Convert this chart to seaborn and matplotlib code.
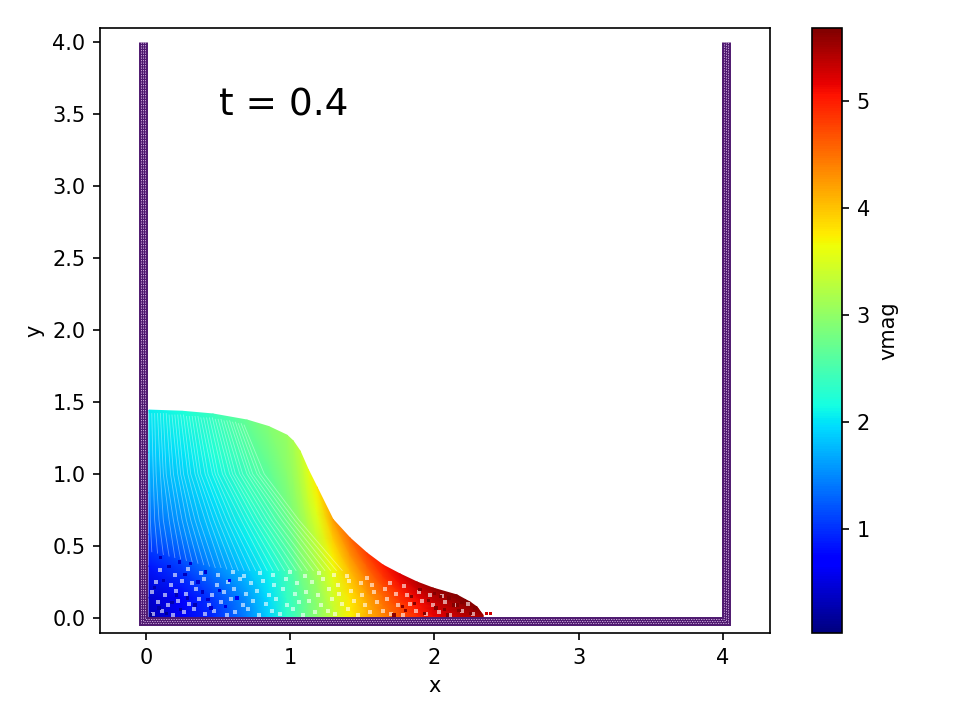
import numpy as np
import pandas as pd
import matplotlib
matplotlib.use("Agg")
import matplotlib.pyplot as plt
import seaborn as sns

time_label = "t = 0.4"
vmag_min = 0.023
vmag_max = 5.68

# fluid body, one list per column, top of the fluid first
col_x = [0.02, 0.25, 0.464, 0.70, 0.85, 0.977, 1.02, 1.068, 1.125, 1.185, 1.296, 1.414, 1.532, 1.643, 1.761, 1.879,
         1.99, 2.156, 2.246, 2.295, 2.336]
col_y = [
    [1.444, 1.15, 0.87, 0.58, 0.36, 0.14, 0],
    [1.436, 1.15, 0.86, 0.57, 0.36, 0.14, 0],
    [1.417, 1.13, 0.85, 0.57, 0.35, 0.14, 0],
    [1.375, 1.10, 0.82, 0.55, 0.34, 0.14, 0],
    [1.33, 1.06, 0.80, 0.53, 0.33, 0.13, 0],
    [1.27, 1.02, 0.76, 0.51, 0.32, 0.13, 0],
    [1.23, 0.98, 0.74, 0.49, 0.31, 0.12, 0],
    [1.16, 0.93, 0.70, 0.46, 0.29, 0.12, 0],
    [1.03, 0.82, 0.62, 0.41, 0.26, 0.10, 0],
    [0.91, 0.73, 0.55, 0.36, 0.23, 0.09, 0],
    [0.685, 0.55, 0.41, 0.27, 0.17, 0.07, 0],
    [0.556, 0.44, 0.33, 0.22, 0.14, 0.06, 0],
    [0.451, 0.36, 0.27, 0.18, 0.11, 0.05, 0],
    [0.368, 0.29, 0.22, 0.15, 0.09, 0.04, 0],
    [0.306, 0.24, 0.18, 0.12, 0.08, 0.03, 0],
    [0.25, 0.20, 0.15, 0.10, 0.06, 0.025, 0],
    [0.208, 0.17, 0.125, 0.08, 0.05, 0.02, 0],
    [0.16, 0.13, 0.095, 0.065, 0.04, 0.016, 0],
    [0.111, 0.09, 0.067, 0.044, 0.028, 0.011, 0],
    [0.076, 0.06, 0.045, 0.03, 0.02, 0.008, 0],
    [0.02, 0.016, 0.012, 0.008, 0.005, 0.002, 0],
]
col_v = [
    [2.05, 1.85, 1.55, 1.2, 0.85, 0.4, 0.3],
    [2.2, 2.0, 1.75, 1.45, 1.1, 0.7, 0.6],
    [2.4, 2.2, 2.0, 1.75, 1.45, 1.05, 0.95],
    [2.7, 2.5, 2.3, 2.05, 1.85, 1.55, 1.45],
    [2.9, 2.7, 2.5, 2.3, 2.1, 1.95, 1.9],
    [3.05, 2.95, 2.8, 2.6, 2.45, 2.35, 2.3],
    [3.15, 3.05, 2.9, 2.7, 2.55, 2.45, 2.4],
    [3.3, 3.2, 3.05, 2.9, 2.75, 2.6, 2.6],
    [3.55, 3.4, 3.2, 3.05, 2.9, 2.8, 2.8],
    [3.75, 3.55, 3.35, 3.2, 3.05, 2.95, 2.95],
    [4.2, 3.95, 3.7, 3.55, 3.45, 3.35, 3.35],
    [4.55, 4.3, 4.05, 3.9, 3.8, 3.75, 3.7],
    [4.8, 4.6, 4.4, 4.25, 4.15, 4.1, 4.1],
    [5.0, 4.85, 4.7, 4.55, 4.45, 4.4, 4.35],
    [5.2, 5.1, 4.95, 4.85, 4.75, 4.7, 4.65],
    [5.4, 5.3, 5.15, 5.05, 5.0, 4.95, 4.9],
    [5.55, 5.45, 5.35, 5.25, 5.2, 5.15, 5.1],
    [5.65, 5.6, 5.5, 5.45, 5.4, 5.35, 5.3],
    [5.65, 5.6, 5.55, 5.5, 5.45, 5.4, 5.4],
    [5.6, 5.6, 5.55, 5.5, 5.45, 5.4, 5.4],
    [5.5, 5.5, 5.5, 5.5, 5.5, 5.5, 5.5],
]

# light gaps between particle columns, estimated by eye at four heights
streak_bot_x = [0.04, 0.08, 0.12, 0.16, 0.20, 0.24, 0.28, 0.32, 0.36, 0.40, 0.44, 0.48, 0.52, 0.56, 0.60, 0.64, 0.68,
                0.72, 0.76, 0.80, 0.84, 0.88, 0.92, 0.96, 1.00, 1.04, 1.08, 1.12, 1.16, 1.20, 1.24, 1.28, 1.32, 1.36]
streak_bot_y = [0.46, 0.45, 0.44, 0.43, 0.42, 0.41, 0.40, 0.39, 0.38, 0.37, 0.36, 0.35, 0.35, 0.34, 0.34, 0.33, 0.33,
                0.33, 0.33, 0.33, 0.33, 0.33, 0.33, 0.33, 0.33, 0.33, 0.33, 0.33, 0.33, 0.33, 0.33, 0.33, 0.33, 0.33]
streak_mid_x = [0.03, 0.06, 0.09, 0.12, 0.16, 0.19, 0.22, 0.25, 0.28, 0.31, 0.34, 0.37, 0.41, 0.44, 0.47, 0.50, 0.53,
                0.56, 0.59, 0.62, 0.66, 0.69, 0.72, 0.75, 0.78, 0.81, 0.84, 0.87, 0.90, 0.94, 0.97, 1.00, 1.03, 1.06]
streak_up_x = [0.025, 0.05, 0.07, 0.10, 0.12, 0.14, 0.17, 0.19, 0.22, 0.24, 0.26, 0.29, 0.31, 0.34, 0.36, 0.38, 0.41,
               0.43, 0.46, 0.48, 0.50, 0.53, 0.55, 0.58, 0.60, 0.62, 0.65, 0.67, 0.70, 0.72, 0.74, 0.77, 0.79, 0.82]
streak_top_x = [0.02, 0.04, 0.06, 0.08, 0.10, 0.12, 0.14, 0.16, 0.18, 0.20, 0.22, 0.24, 0.26, 0.28, 0.30, 0.32, 0.34,
                0.36, 0.38, 0.40, 0.42, 0.44, 0.46, 0.48, 0.50, 0.52, 0.54, 0.56, 0.58, 0.60, 0.62, 0.64, 0.66, 0.68]
streak_top_y = [1.42, 1.42, 1.42, 1.42, 1.42, 1.42, 1.42, 1.41, 1.41, 1.41, 1.41, 1.41, 1.41, 1.40, 1.40, 1.40, 1.40,
                1.40, 1.39, 1.39, 1.39, 1.39, 1.39, 1.38, 1.38, 1.38, 1.37, 1.37, 1.37, 1.36, 1.36, 1.35, 1.35, 1.34]

# hand-placed stand-ins for the mottled layer near the floor, not the exact particles
gap_x = [0.05, 0.11, 0.19, 0.26, 0.33, 0.41, 0.47, 0.56, 0.62, 0.71, 0.78, 0.87, 0.93, 1.02, 1.09, 1.17, 1.26, 1.31,
         1.40, 1.47, 1.55, 1.64, 1.70, 1.78, 1.87, 1.94, 2.03, 2.11, 2.19, 2.27,
         0.08, 0.15, 0.22, 0.30, 0.37, 0.44, 0.52, 0.59, 0.67, 0.74, 0.83, 0.90, 0.98, 1.06, 1.13, 1.21, 1.29, 1.36,
         1.44, 1.52, 1.60, 1.67, 1.75, 1.83, 1.91, 1.99, 2.07, 2.15, 2.23,
         0.04, 0.13, 0.21, 0.28, 0.35, 0.46, 0.54, 0.61, 0.69, 0.77, 0.85, 0.95, 1.03, 1.11, 1.19, 1.27, 1.34, 1.42,
         1.50, 1.58, 1.66, 1.73, 1.81, 1.89, 1.97, 2.05,
         0.07, 0.17, 0.25, 0.32, 0.40, 0.49, 0.57, 0.65, 0.73, 0.81, 0.89, 0.97, 1.05, 1.15, 1.23, 1.33, 1.41, 1.49,
         1.57, 1.69, 1.79,
         0.10, 0.20, 0.29, 0.38, 0.50, 0.60, 0.68, 0.79, 0.88, 1.00, 1.10, 1.20, 1.30, 1.39, 1.53]
gap_y = [0.03, 0.05, 0.02, 0.04, 0.06, 0.03, 0.05, 0.02, 0.04, 0.06, 0.02, 0.05, 0.03, 0.06, 0.02, 0.04, 0.05, 0.03,
         0.06, 0.02, 0.04, 0.05, 0.03, 0.02, 0.05, 0.03, 0.04, 0.02, 0.05, 0.03,
         0.11, 0.09, 0.12, 0.10, 0.13, 0.09, 0.11, 0.13, 0.09, 0.12, 0.10, 0.13, 0.09, 0.11, 0.12, 0.09, 0.13, 0.10,
         0.12, 0.09, 0.11, 0.13, 0.09, 0.10, 0.12, 0.09, 0.11, 0.09, 0.10,
         0.18, 0.16, 0.19, 0.17, 0.20, 0.16, 0.18, 0.20, 0.17, 0.19, 0.16, 0.20, 0.17, 0.18, 0.16, 0.20, 0.17, 0.19,
         0.16, 0.18, 0.20, 0.17, 0.16, 0.18, 0.16, 0.15,
         0.25, 0.23, 0.26, 0.24, 0.27, 0.23, 0.25, 0.27, 0.24, 0.26, 0.23, 0.27, 0.24, 0.25, 0.27, 0.23, 0.26, 0.24,
         0.23, 0.24, 0.22,
         0.33, 0.30, 0.34, 0.31, 0.30, 0.32, 0.29, 0.31, 0.30, 0.32, 0.29, 0.31, 0.30, 0.29, 0.28]
dark_x = [0.03, 0.09, 0.14, 0.18, 0.24, 0.29, 0.34, 0.39, 0.45, 0.06, 0.12, 0.21, 0.27, 0.36, 0.43, 0.51, 0.16, 0.31,
          0.41, 0.10, 0.23, 0.55, 0.63, 0.58, 1.72, 1.80, 1.86, 1.93, 2.01, 2.09, 2.17, 2.25, 1.84, 1.96, 2.04, 2.13,
          2.21, 2.28, 1.90, 2.00, 2.10, 2.19, 1.78, 2.07, 2.16]
dark_y = [0.02, 0.07, 0.03, 0.11, 0.06, 0.14, 0.09, 0.18, 0.07, 0.21, 0.26, 0.16, 0.30, 0.25, 0.13, 0.19, 0.36, 0.38,
          0.32, 0.42, 0.39, 0.08, 0.14, 0.26, 0.02, 0.05, 0.10, 0.03, 0.07, 0.02, 0.05, 0.03, 0.15, 0.12, 0.15, 0.09,
          0.12, 0.07, 0.20, 0.17, 0.14, 0.11, 0.08, 0.06, 0.09]
dark_v = [0.15, 0.2, 0.15, 0.25, 0.2, 0.3, 0.3, 0.35, 0.4, 0.25, 0.3, 0.3, 0.35, 0.4, 0.4, 0.45, 0.3, 0.4,
          0.4, 0.35, 0.4, 0.5, 0.6, 0.6, 5.6, 5.6, 5.65, 5.65, 5.65, 5.65, 5.65, 5.65, 5.65, 5.65, 5.65, 5.65,
          5.65, 5.65, 5.65, 5.65, 5.65, 5.65, 5.6, 5.65, 5.65]

# loose particles ahead of the front
drop_x = [2.36, 2.39]
drop_y = [0.03, 0.03]
drop_v = [5.3, 5.3]

# tank walls
wall_x = [-0.018, -0.018, 4.018, 4.018]
wall_y = [4.0, -0.021, -0.021, 4.0]
wall_in_x = [-0.005, -0.005, 4.005, 4.005]
wall_in_y = [4.0, -0.008, -0.008, 4.0]
wall_out_x = [-0.032, -0.032, 4.032, 4.032]
wall_out_y = [4.0, -0.035, -0.035, 4.0]

cmap = plt.get_cmap("jet")
norm = plt.Normalize(vmag_min, vmag_max)

fig = plt.figure(figsize=(6.4, 4.8), dpi=150)
ax = fig.add_axes([100 / 960, 1 - 633 / 720, 670 / 960, 605 / 720])
cax = fig.add_axes([812 / 960, 1 - 633 / 720, 30 / 960, 605 / 720])

X = np.tile(np.array(col_x)[:, None], (1, len(col_y[0])))
mesh = ax.pcolormesh(X, np.array(col_y), np.array(col_v), cmap=cmap, norm=norm, shading="gouraud")

# gaps between the columns
rows = []
for i in range(len(streak_bot_x)):
    rows.append({"x": streak_bot_x[i], "y": streak_bot_y[i], "streak": i})
    rows.append({"x": streak_mid_x[i], "y": 0.68, "streak": i})
    rows.append({"x": streak_up_x[i], "y": 1.0, "streak": i})
    rows.append({"x": streak_top_x[i], "y": streak_top_y[i], "streak": i})
sns.lineplot(data=pd.DataFrame(rows), x="x", y="y", units="streak", estimator=None, sort=False,
             color="white", lw=0.4, alpha=0.4, ax=ax)

gaps = pd.DataFrame({"x": gap_x, "y": gap_y})
sns.scatterplot(data=gaps, x="x", y="y", color="white", s=2.5, marker="s", linewidth=0, alpha=0.6, ax=ax)
dark = pd.DataFrame({"x": dark_x, "y": dark_y, "vmag": dark_v})
sns.scatterplot(data=dark, x="x", y="y", hue="vmag", palette=cmap, hue_norm=norm,
                s=2.5, marker="s", linewidth=0, legend=False, ax=ax)

drops = pd.DataFrame({"x": drop_x, "y": drop_y, "vmag": drop_v})
sns.scatterplot(data=drops, x="x", y="y", hue="vmag", palette=cmap, hue_norm=norm,
                s=2, marker="s", linewidth=0, legend=False, ax=ax)

walls = pd.DataFrame({"x": wall_x, "y": wall_y})
sns.lineplot(data=walls, x="x", y="y", sort=False, estimator=None, color="#4f1a70", lw=4.3,
             solid_joinstyle="miter", solid_capstyle="butt", ax=ax)
for wx, wy in [(wall_x, wall_y), (wall_in_x, wall_in_y), (wall_out_x, wall_out_y)]:
    sns.lineplot(x=wx, y=wy, sort=False, estimator=None, color="#d9b8e6", lw=0.4,
                 linestyle=(0, (1.5, 1.5)), ax=ax)

ax.text(0.505, 3.49, time_label, fontsize=18)
ax.set_xlim(-0.319, 4.326)
ax.set_ylim(-0.104, 4.097)
ax.set_xlabel("x")
ax.set_ylabel("y")

fig.colorbar(mesh, cax=cax, label="vmag", ticks=[1, 2, 3, 4, 5])
fig.savefig("out.png", dpi=150)
